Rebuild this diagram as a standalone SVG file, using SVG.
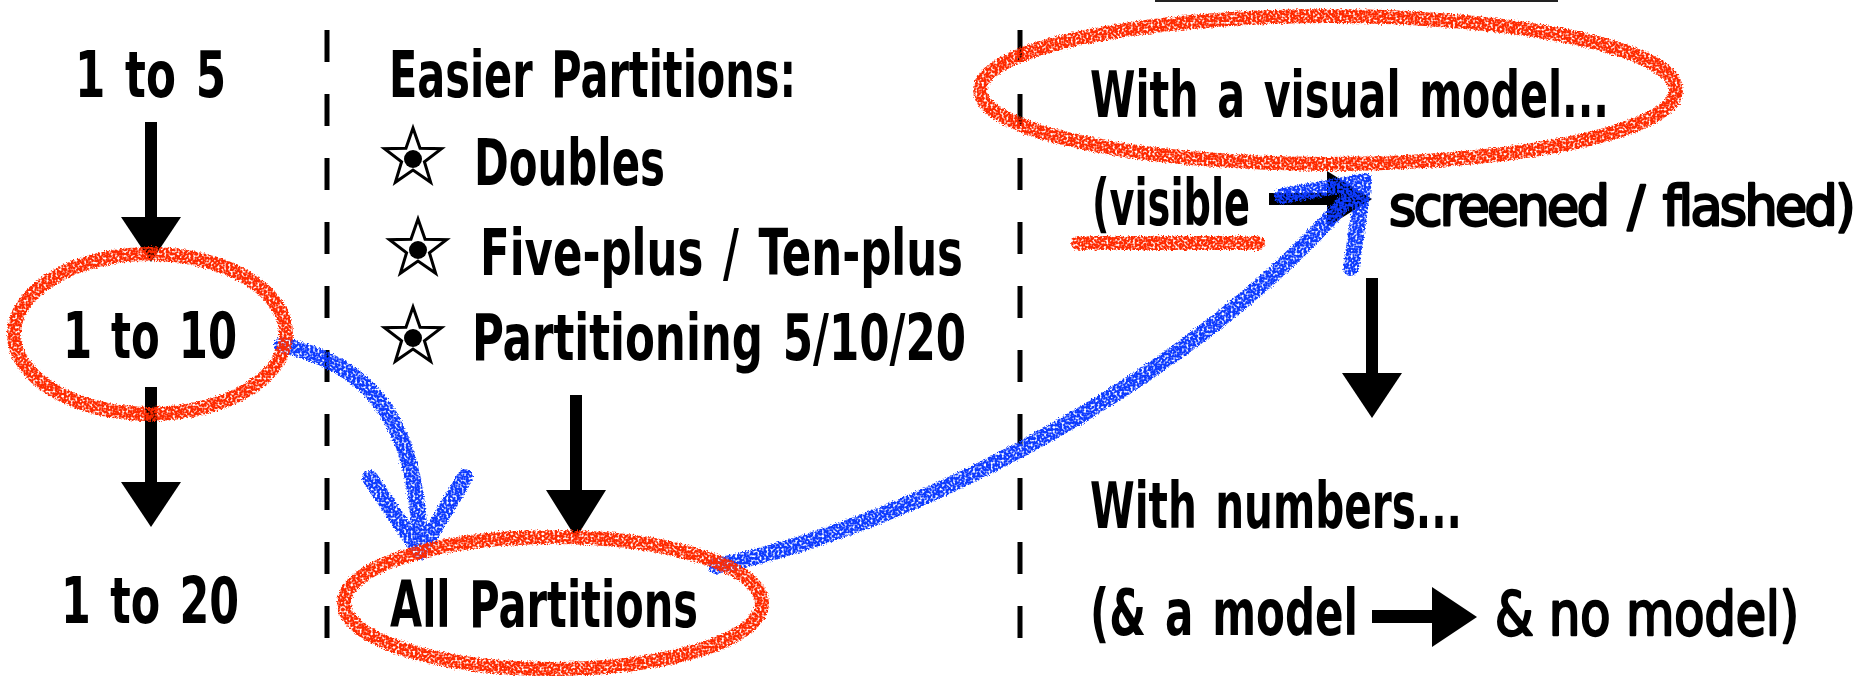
<svg xmlns="http://www.w3.org/2000/svg" width="1858" height="676" viewBox="0 0 1858 676">
<style>
.t{font-family:"Liberation Sans Narrow","DejaVu Sans Condensed","Liberation Sans",sans-serif;font-weight:bold;font-size:64px;fill:#000;word-spacing:6px}
.r{font-weight:normal;stroke:#000;stroke-width:2.4px;stroke-linejoin:round;word-spacing:0}
.red{fill:none;stroke:#ff2b00;stroke-width:14;stroke-linecap:round;stroke-linejoin:round}
.blue{fill:none;stroke:#0b3bff;stroke-width:16;stroke-linecap:round;stroke-linejoin:round}
.div{stroke:#000;stroke-width:5;stroke-dasharray:32 32}
.shaft{fill:#000}
</style>
<defs>
<filter id="rough" filterUnits="userSpaceOnUse" x="0" y="0" width="1858" height="676">
<feTurbulence type="fractalNoise" baseFrequency="0.7" numOctaves="2" seed="4" result="n"/>
<feDisplacementMap in="SourceGraphic" in2="n" scale="5" xChannelSelector="R" yChannelSelector="G" result="d"/>
<feTurbulence type="fractalNoise" baseFrequency="0.45" numOctaves="1" seed="9" result="t"/>
<feColorMatrix in="t" type="matrix" values="0 0 0 0 0  0 0 0 0 0  0 0 0 0 0  0 0 0 -4 2.9" result="m"/>
<feComposite in="d" in2="m" operator="in"/>
</filter>
<g id="star">
<path d="M0,-30 L7.05,-9.71 L28.53,-9.27 L11.41,3.71 L17.63,24.27 L0,12 L-17.63,24.27 L-11.41,3.71 L-28.53,-9.27 L-7.05,-9.71 Z" fill="#fff" stroke="#000" stroke-width="3" stroke-linejoin="miter"/>
<circle cx="0" cy="1" r="9" fill="#000"/>
</g>
</defs>
<rect width="1858" height="676" fill="#fff"/>

<g id="dividers">
<line class="div" x1="327" y1="30" x2="327" y2="640"/>
<line class="div" x1="1020" y1="30" x2="1020" y2="640"/>
<line x1="1155" y1="1" x2="1558" y2="1" stroke="#222" stroke-width="2"/>
</g>

<g id="connectors">
<g id="black-arrows">
<rect class="shaft" x="145" y="122" width="12" height="98"/>
<polygon points="121,217 181,217 151,262"/>
<rect class="shaft" x="145" y="387" width="12" height="98"/>
<polygon points="121,482 181,482 151,527"/>
<rect class="shaft" x="570" y="395" width="12" height="98"/>
<polygon points="546,490 606,490 576,538"/>
<rect class="shaft" x="1366" y="278" width="12" height="98"/>
<polygon points="1342,373 1402,373 1372,418"/>
<rect class="shaft" x="1269" y="193" width="62" height="12"/>
<polygon points="1327,171 1327,227 1372,199"/>
<rect class="shaft" x="1372" y="610" width="62" height="13"/>
<polygon points="1432,587 1432,647 1477,617"/>
</g>
<g id="blue-arrows" filter="url(#rough)">
<path class="blue" d="M282,345 C360,362 418,410 420,550"/>
<path class="blue" d="M370,478 L420,552 L465,477"/>
<path class="blue" d="M716,566 C900,530 1200,380 1362,182"/>
<path class="blue" d="M1282,196 L1364,181 L1351,268"/>
</g>
</g>

<g id="n-1to5"><text class="t" x="75" y="97" textLength="151" lengthAdjust="spacingAndGlyphs">1 to 5</text></g>
<g id="n-1to10">
<ellipse class="red" cx="150" cy="334" rx="136" ry="80" filter="url(#rough)"/>
<text class="t" x="63" y="358" textLength="174" lengthAdjust="spacingAndGlyphs">1 to 10</text>
</g>
<g id="n-1to20"><text class="t" x="61" y="623" textLength="178" lengthAdjust="spacingAndGlyphs">1 to 20</text></g>

<g id="n-easier">
<text class="t" x="389" y="97" textLength="407" lengthAdjust="spacingAndGlyphs">Easier Partitions:</text>
<use href="#star" x="413" y="158"/>
<text class="t" x="474" y="185" textLength="191" lengthAdjust="spacingAndGlyphs">Doubles</text>
<use href="#star" x="418" y="249"/>
<text class="t" x="480" y="275" textLength="483" lengthAdjust="spacingAndGlyphs">Five-plus / Ten-plus</text>
<use href="#star" x="413" y="337"/>
<text class="t" x="472" y="360" textLength="494" lengthAdjust="spacingAndGlyphs">Partitioning 5/10/20</text>
</g>

<g id="n-allpart">
<ellipse class="red" cx="553" cy="603" rx="209" ry="66" filter="url(#rough)"/>
<text class="t" x="390" y="627" textLength="308" lengthAdjust="spacingAndGlyphs">All Partitions</text>
</g>

<g id="n-visual">
<ellipse class="red" cx="1328" cy="90" rx="348" ry="74" filter="url(#rough)"/>
<text class="t" x="1090" y="117" textLength="519" lengthAdjust="spacingAndGlyphs">With a visual model...</text>
</g>

<g id="n-visible">
<text class="t" x="1092" y="225" textLength="158" lengthAdjust="spacingAndGlyphs">(visible</text>
<path class="red" d="M1078,243 L1258,243" stroke-width="15" filter="url(#rough)"/>
<text class="t r" x="1389" y="225" textLength="464" lengthAdjust="spacingAndGlyphs" style="font-size:56px;letter-spacing:-2.5px;word-spacing:6px">screened / flashed)</text>
</g>

<g id="n-numbers">
<text class="t" x="1090" y="528" textLength="372" lengthAdjust="spacingAndGlyphs">With numbers...</text>
<text class="t" x="1090" y="635" textLength="268" lengthAdjust="spacingAndGlyphs">(&amp; a model</text>
<text class="t r" x="1495" y="635" textLength="304" lengthAdjust="spacingAndGlyphs" style="font-size:60px">&amp; no model)</text>
</g>
</svg>
